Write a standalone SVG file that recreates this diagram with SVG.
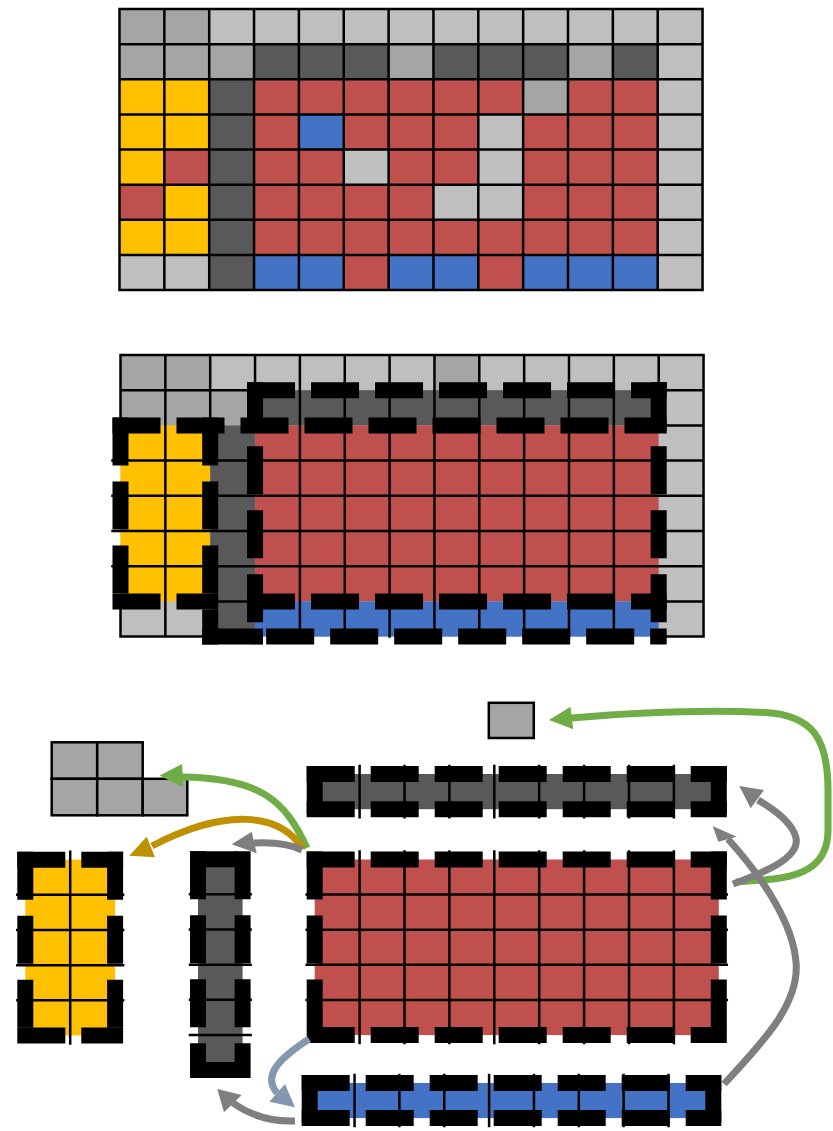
<svg xmlns="http://www.w3.org/2000/svg" width="833" height="1131" viewBox="0 0 833 1131">
<style>
.cA{fill:#A5A5A5}.cL{fill:#BFBFBF}.cD{fill:#595959}.cY{fill:#FFC000}.cR{fill:#C0504D}.cB{fill:#4472C4}
.gl{fill:none;stroke:#000;stroke-width:2.5;stroke-linecap:square}
.cell{stroke:#000;stroke-width:2.5}
.dash line{stroke:#000;stroke-width:16;stroke-dasharray:32 32;stroke-linecap:square}
.conn path{fill:none;stroke-width:7}
</style>
<rect width="833" height="1131" fill="#fff"/>

<g id="grid-input">
<rect class="cL" x="119.5" y="9" width="583.05" height="281"/>
<rect class="cA" x="119.5" y="9" width="89.7" height="35.125"/>
<rect class="cA" x="119.5" y="44.125" width="134.55" height="35.125"/>
<rect class="cD" x="254.05" y="44.125" width="134.55" height="35.125"/>
<rect class="cA" x="388.6" y="44.125" width="44.85" height="35.125"/>
<rect class="cD" x="433.45" y="44.125" width="134.55" height="35.125"/>
<rect class="cA" x="568" y="44.125" width="44.85" height="35.125"/>
<rect class="cD" x="612.85" y="44.125" width="44.85" height="35.125"/>
<rect class="cD" x="209.2" y="79.25" width="44.85" height="210.75"/>
<rect class="cY" x="119.5" y="79.25" width="89.7" height="35.125"/>
<rect class="cR" x="254.05" y="79.25" width="269.1" height="35.125"/>
<rect class="cA" x="523.15" y="79.25" width="44.85" height="35.125"/>
<rect class="cR" x="568" y="79.25" width="89.7" height="35.125"/>
<rect class="cY" x="119.5" y="114.375" width="89.7" height="35.125"/>
<rect class="cR" x="254.05" y="114.375" width="44.85" height="35.125"/>
<rect class="cB" x="298.9" y="114.375" width="44.85" height="35.125"/>
<rect class="cR" x="343.75" y="114.375" width="134.55" height="35.125"/>
<rect class="cR" x="523.15" y="114.375" width="134.55" height="35.125"/>
<rect class="cY" x="119.5" y="149.5" width="44.85" height="35.125"/>
<rect class="cR" x="164.35" y="149.5" width="44.85" height="35.125"/>
<rect class="cR" x="254.05" y="149.5" width="89.7" height="35.125"/>
<rect class="cR" x="388.6" y="149.5" width="89.7" height="35.125"/>
<rect class="cR" x="523.15" y="149.5" width="134.55" height="35.125"/>
<rect class="cR" x="119.5" y="184.625" width="44.85" height="35.125"/>
<rect class="cY" x="164.35" y="184.625" width="44.85" height="35.125"/>
<rect class="cR" x="254.05" y="184.625" width="179.4" height="35.125"/>
<rect class="cR" x="523.15" y="184.625" width="134.55" height="35.125"/>
<rect class="cY" x="119.5" y="219.75" width="89.7" height="35.125"/>
<rect class="cR" x="254.05" y="219.75" width="403.65" height="35.125"/>
<rect class="cB" x="254.05" y="254.875" width="89.7" height="35.125"/>
<rect class="cR" x="343.75" y="254.875" width="44.85" height="35.125"/>
<rect class="cB" x="388.6" y="254.875" width="89.7" height="35.125"/>
<rect class="cR" x="478.3" y="254.875" width="44.85" height="35.125"/>
<rect class="cB" x="523.15" y="254.875" width="134.55" height="35.125"/>
<path class="gl" d="M119.5 9V290M164.35 9V290M209.2 9V290M254.05 9V290M298.9 9V290M343.75 9V290M388.6 9V290M433.45 9V290M478.3 9V290M523.15 9V290M568 9V290M612.85 9V290M657.7 9V290M702.55 9V290M119.5 9H702.55M119.5 44.125H702.55M119.5 79.25H702.55M119.5 114.375H702.55M119.5 149.5H702.55M119.5 184.625H702.55M119.5 219.75H702.55M119.5 254.875H702.55M119.5 290H702.55"/>
</g>

<g id="grid-segmented">
<rect class="cL" x="120.5" y="355" width="583.05" height="281.6"/>
<rect class="cA" x="120.5" y="355" width="89.7" height="35.2"/>
<rect class="cA" x="120.5" y="390.2" width="134.55" height="35.2"/>
<rect class="cA" x="434.45" y="355" width="44.85" height="35.2"/>
<rect class="cD" x="255.05" y="390.2" width="403.65" height="35.2"/>
<rect class="cY" x="120.5" y="425.4" width="89.7" height="176"/>
<rect class="cD" x="210.2" y="425.4" width="44.85" height="211.2"/>
<rect class="cR" x="255.05" y="425.4" width="403.65" height="176"/>
<rect class="cB" x="255.05" y="601.4" width="403.65" height="35.2"/>
<path class="gl" d="M120.5 355H703.55M120.5 390.2H255.05M658.7 390.2H703.55M658.7 425.4H703.55M112.5 460.6H703.55M112.5 495.8H703.55M112.5 531H703.55M112.5 566.2H703.55M210.2 601.4H255.05M658.7 601.4H703.55M120.5 636.6H210.2M658.7 636.6H703.55M120.5 355V425.4M120.5 601.4V636.6M165.35 355V636.6M210.2 355V425.4M255.05 355V390.2M299.9 355V636.6M344.75 355V636.6M389.6 355V636.6M434.45 355V636.6M479.3 355V636.6M524.15 355V636.6M569 355V636.6M613.85 355V636.6M658.7 355V390.2M703.55 355V636.6"/>
<g class="dash">
<line x1="255.05" y1="390.2" x2="658.7" y2="390.2"/>
<line x1="120.5" y1="425.4" x2="658.7" y2="425.4"/>
<line x1="120.5" y1="601.4" x2="210.2" y2="601.4"/>
<line x1="255.05" y1="601.4" x2="658.7" y2="601.4"/>
<line x1="210.2" y1="636.6" x2="658.7" y2="636.6"/>
<line x1="120.5" y1="425.4" x2="120.5" y2="601.4"/>
<line x1="210.2" y1="425.4" x2="210.2" y2="636.6"/>
<line x1="255.05" y1="390.2" x2="255.05" y2="636.6"/>
<line x1="658.7" y1="390.2" x2="658.7" y2="636.6"/>
</g>
<rect x="250" y="628.6" width="13" height="16" fill="#000"/>
</g>

<g id="node-gray-l">
<rect class="cA cell" x="51.7" y="742.3" width="45.5" height="36.5"/>
<rect class="cA cell" x="97.2" y="742.3" width="45.5" height="36.5"/>
<rect class="cA cell" x="51.7" y="778.8" width="45.5" height="36.5"/>
<rect class="cA cell" x="97.2" y="778.8" width="45.5" height="36.5"/>
<rect class="cA cell" x="142.7" y="778.8" width="44.6" height="36.5"/>
</g>

<g id="node-gray-single">
<rect class="cA cell" x="488.8" y="702.8" width="45" height="35.2"/>
</g>

<g id="node-yellow">
<rect class="cY" x="25.3" y="859.7" width="89.8" height="175.75"/>
<path class="gl" d="M70.2 851.7V1043.45M17.3 894.85H123.1M17.3 930H123.1M17.3 965.15H123.1M17.3 1000.3H123.1"/>
<g class="dash">
<line x1="25.3" y1="859.7" x2="115.1" y2="859.7"/>
<line x1="25.3" y1="1035.45" x2="115.1" y2="1035.45"/>
<line x1="25.3" y1="859.7" x2="25.3" y2="1035.45"/>
<line x1="115.1" y1="859.7" x2="115.1" y2="1035.45"/>
</g>
</g>

<g id="node-dark-column">
<rect class="cD" x="198" y="859.2" width="44.6" height="210.9"/>
<path class="gl" d="M190 894.35H250.6M190 929.5H250.6M190 964.65H250.6M190 999.8H250.6M190 1034.95H250.6"/>
<g class="dash">
<line x1="198" y1="859.2" x2="242.6" y2="859.2"/>
<line x1="198" y1="1070.1" x2="242.6" y2="1070.1"/>
<line x1="198" y1="859.2" x2="198" y2="1070.1"/>
<line x1="242.6" y1="859.2" x2="242.6" y2="1070.1"/>
</g>
</g>

<g id="node-dark-row">
<rect class="cD" x="314.7" y="774" width="404.1" height="35.2"/>
<path class="gl" d="M359.6 766V817.2M404.5 766V817.2M449.4 766V817.2M494.3 766V817.2M539.2 766V817.2M584.1 766V817.2M629 766V817.2M673.9 766V817.2"/>
<g class="dash">
<line x1="314.7" y1="774" x2="718.8" y2="774"/>
<line x1="314.7" y1="809.2" x2="718.8" y2="809.2"/>
<line x1="314.7" y1="774" x2="314.7" y2="809.2"/>
<line x1="718.8" y1="774" x2="718.8" y2="809.2"/>
</g>
</g>

<g id="node-red">
<rect class="cR" x="314.7" y="859.5" width="404.1" height="175.6"/>
<path class="gl" d="M359.6 851.5V1043.1M404.5 851.5V1043.1M449.4 851.5V1043.1M494.3 851.5V1043.1M539.2 851.5V1043.1M584.1 851.5V1043.1M629 851.5V1043.1M673.9 851.5V1043.1M306.7 894.6H726.8M306.7 929.7H726.8M306.7 964.8H726.8M306.7 999.9H726.8"/>
<g class="dash">
<line x1="314.7" y1="859.5" x2="718.8" y2="859.5"/>
<line x1="314.7" y1="1035.1" x2="718.8" y2="1035.1"/>
<line x1="314.7" y1="859.5" x2="314.7" y2="1035.1"/>
<line x1="718.8" y1="859.5" x2="718.8" y2="1035.1"/>
</g>
</g>

<g id="node-blue">
<rect class="cB" x="309.7" y="1083" width="403.6" height="35.1"/>
<path class="gl" d="M354.55 1075V1126.1M399.4 1075V1126.1M444.25 1075V1126.1M489.1 1075V1126.1M533.95 1075V1126.1M578.8 1075V1126.1M623.65 1075V1126.1M668.5 1075V1126.1"/>
<g class="dash">
<line x1="309.7" y1="1083" x2="713.3" y2="1083"/>
<line x1="309.7" y1="1118.1" x2="713.3" y2="1118.1"/>
<line x1="309.7" y1="1083" x2="309.7" y2="1118.1"/>
<line x1="713.3" y1="1083" x2="713.3" y2="1118.1"/>
</g>
</g>

<g id="connectors" class="conn">
<g>
<path stroke="#70AD47" d="M307 848C285 800 260 778 182 777"/>
<polygon fill="#70AD47" points="159.5,775.5 182,764 183.5,787.5"/>
</g>
<g>
<path stroke="#BF9000" d="M303 849C280 812 225 808 152 846"/>
<polygon fill="#BF9000" points="129.3,855.7 146.7,836.7 155,857.3"/>
</g>
<g>
<path stroke="#7F7F7F" d="M302 850C290 844 275 842 254 843"/>
<polygon fill="#7F7F7F" points="231.7,844.3 251.7,831.7 256.7,853.3"/>
</g>
<g>
<path stroke="#70AD47" d="M736 882L768 879.5C808 876 828 862 828 830L828 790C828 738 812 715 765 712.5C705 709.5 630 713 571 718"/>
<polygon fill="#70AD47" points="549,720 570.5,706.7 573.3,729.3"/>
</g>
<g>
<path stroke="#7F7F7F" d="M733 884C765 872 800 858 796 838C793 824 778 812 758 800"/>
<polygon fill="#7F7F7F" points="739.3,786 750.7,808.3 764,790"/>
</g>
<g>
<path stroke="#7F7F7F" d="M724 1084C760 1045 800 1005 796 962C793 925 765 880 728 839"/>
<polygon fill="#7F7F7F" points="712.7,826 718.3,841.7 736.7,836.7"/>
</g>
<g>
<path stroke="#8497B0" d="M309 1039C280 1058 262 1075 277 1093"/>
<polygon fill="#8497B0" points="295,1107.3 269.3,1101.7 285,1084"/>
</g>
<g>
<path stroke="#7F7F7F" d="M295 1121C270 1122 250 1115 233 1103"/>
<polygon fill="#7F7F7F" points="217.3,1089 224,1112.3 241.7,1095"/>
</g>
</g>
</svg>
